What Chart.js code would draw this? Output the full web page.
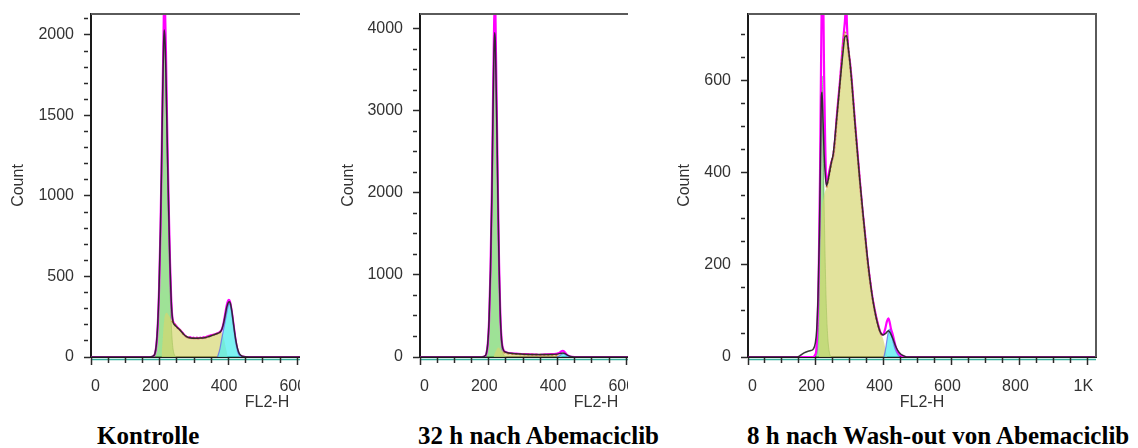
<!DOCTYPE html>
<html lang="de">
<head>
<meta charset="utf-8">
<title>Zellzyklus FL2-H</title>
<script src="https://cdn.jsdelivr.net/npm/chart.js"></script>
<style>
  body { margin: 0; background: #fff; }
  #bild { position: relative; width: 1138px; height: 448px; overflow: hidden; }
  .feld { position: absolute; top: 0; height: 420px; overflow: hidden; }
  .unter { position: absolute; top: 423px; font: bold 25px "Liberation Serif", "Times New Roman", serif; line-height: 25px; white-space: nowrap; color: #000; }
</style>
</head>
<body>
<div id="bild">
  <div class="feld" style="left:0; width:300px;"><canvas id="kontrolleChart" width="463" height="420"></canvas></div>
  <div class="feld" style="left:330px; width:298px;"><canvas id="abemaChart" width="462" height="420"></canvas></div>
  <div class="feld" style="left:660px; width:478px;"><canvas id="washChart" width="456" height="420"></canvas></div>
  <div class="unter" style="left:97px;">Kontrolle</div>
  <div class="unter" style="left:418px;">32 h nach Abemaciclib</div>
  <div class="unter" style="left:747px;">8 h nach Wash-out von Abemaciclib</div>
</div>
<script>
// ===== Zellzyklus-Histogramme (FL2-H gegen Count) =====

const xLabels = [0, 200, 400, 600, 800, 1000];

// --- Kontrolle ---
const kontrolleYLabels = [0, 500, 1000, 1500, 2000];
const kontrolleMessung = [[0,0],[170,0],[180,4],[186,20],[190,70],[194,190],[198,420],[202,780],[205,1150],[208,1600],[211,2000],[213,2250],[215,2200],[218,1900],[221,1500],[224,1150],[227,850],[230,580],[233,380],[236,260],[239,220],[243,205],[248,192],[253,180],[258,170],[263,158],[268,146],[273,134],[278,125],[283,118],[288,124],[293,117],[298,121],[303,115],[308,120],[313,114],[318,121],[323,117],[328,124],[333,119],[338,127],[343,131],[348,134],[353,137],[358,140],[363,143],[368,147],[373,152],[378,162],[382,180],[386,215],[390,262],[394,312],[398,345],[401,355],[404,345],[407,315],[411,260],[415,195],[419,130],[423,75],[427,38],[431,16],[436,6],[442,2],[450,0],[1024,0]];
const kontrolleFit = [[0,0],[170,0],[180,5],[186,22],[190,75],[194,200],[198,430],[202,790],[205,1150],[208,1580],[211,1930],[213,2030],[215,1980],[218,1760],[221,1420],[224,1100],[227,820],[230,560],[233,370],[236,260],[239,215],[243,200],[250,185],[260,165],[270,140],[280,124],[290,118],[300,117],[310,117],[320,118],[330,120],[340,125],[350,132],[360,140],[370,148],[378,160],[384,195],[390,255],[395,310],[400,340],[403,343],[406,330],[410,280],[414,215],[418,150],[422,95],[426,55],[430,28],[435,12],[440,5],[448,1],[460,0],[1024,0]];
const kontrolleG1 = [[180,0],[186,18],[190,70],[194,190],[198,420],[202,780],[205,1140],[208,1570],[211,1920],[213,2020],[215,1960],[218,1730],[221,1360],[224,1000],[227,680],[230,420],[233,230],[236,110],[239,45],[243,12],[248,0]];
const kontrolleS = [[205,0],[209,120],[213,230],[217,270],[221,275],[225,262],[230,245],[235,225],[240,212],[245,200],[250,185],[260,165],[270,140],[280,124],[290,118],[300,117],[310,117],[320,118],[330,120],[340,125],[350,132],[360,140],[370,148],[378,155],[383,140],[388,100],[393,50],[398,0]];
const kontrolleG2 = [[368,0],[375,50],[380,110],[385,165],[390,220],[395,275],[399,318],[402,330],[405,322],[409,285],[413,225],[417,160],[421,100],[425,55],[429,25],[434,8],[440,0]];

// --- 32 h nach Abemaciclib ---
const abemaYLabels = [0, 1000, 2000, 3000, 4000];
const abemaMessung = [[0,0],[180,0],[188,8],[193,40],[197,150],[201,450],[205,1050],[209,2000],[212,3000],[215,3900],[217,4300],[219,4250],[221,3700],[224,2800],[227,1900],[230,1150],[233,620],[236,300],[239,150],[243,85],[248,62],[255,52],[265,46],[280,40],[300,36],[320,33],[340,28],[348,22],[355,28],[365,32],[380,34],[395,38],[405,48],[411,68],[415,76],[419,70],[423,50],[428,25],[434,9],[442,2],[450,0],[1024,0]];
const abemaFit = [[0,0],[180,0],[188,10],[193,45],[197,160],[201,460],[205,1050],[209,1950],[212,2900],[215,3700],[217,3950],[219,3850],[221,3450],[224,2700],[227,1850],[230,1120],[233,600],[236,290],[239,145],[243,80],[250,58],[265,45],[300,35],[340,30],[380,30],[400,35],[410,45],[416,50],[422,42],[430,20],[438,7],[448,1],[460,0],[1024,0]];
const abemaG1 = [[185,0],[190,15],[195,80],[199,280],[203,700],[207,1500],[210,2400],[213,3400],[216,4000],[218,4100],[220,3750],[223,2950],[226,2000],[229,1200],[232,620],[235,280],[238,110],[242,35],[247,8],[252,0]];
const abemaS = [[214,0],[219,60],[224,100],[228,115],[232,105],[237,80],[243,60],[250,48],[265,40],[300,33],[340,28],[380,28],[400,25],[408,15],[414,0]];
const abemaG2 = [[398,0],[404,10],[409,25],[414,38],[418,40],[422,33],[427,18],[433,6],[440,0]];

// --- 8 h nach Wash-out von Abemaciclib ---
const washYLabels = [0, 200, 400, 600];
const washMessung = [[0,0],[190,0],[197,4],[201,15],[204,60],[208,180],[212,400],[215,640],[218,800],[221,790],[224,610],[227,470],[231,374],[236,392],[241,410],[246,425],[251,437],[256,470],[261,520],[266,562],[270,594],[275,640],[280,688],[283,712],[285,728],[287,752],[289,775],[291,725],[293,690],[296,660],[300,640],[305,602],[310,555],[315,508],[322,445],[329,384],[336,325],[344,269],[351,215],[359,167],[366,130],[373,102],[380,78],[388,57],[394,48],[399,50],[404,62],[409,78],[413,84],[417,75],[421,60],[425,51],[430,36],[435,21],[440,12],[447,5],[455,2],[465,0],[1024,0]];
const washFit = [[0,0],[145,0],[155,4],[165,9],[175,12],[185,14],[192,17],[198,30],[202,58],[206,130],[210,265],[213,420],[216,565],[218,575],[221,510],[224,440],[228,390],[231,372],[236,385],[241,405],[246,425],[251,442],[260,510],[270,590],[280,665],[285,695],[290,698],[295,672],[300,640],[305,600],[315,505],[329,384],[344,268],[359,167],[373,100],[388,56],[398,48],[406,52],[413,57],[419,52],[426,40],[433,26],[440,15],[450,6],[460,2],[472,0],[1024,0]];
const washG1 = [[200,0],[205,25],[209,120],[212,300],[214,470],[216,590],[218,610],[220,540],[222,420],[225,290],[228,180],[231,100],[235,40],[240,8],[245,0]];
const washS = [[209,0],[213,200],[217,310],[222,345],[227,360],[231,368],[236,385],[241,405],[246,425],[251,440],[256,470],[261,515],[266,558],[270,590],[275,636],[280,680],[285,705],[290,700],[295,672],[300,640],[305,600],[315,505],[322,442],[329,384],[336,325],[344,268],[351,214],[359,166],[366,130],[373,100],[380,77],[388,56],[395,45],[401,30],[406,12],[410,0]];
const washG2 = [[400,0],[405,18],[410,42],[414,58],[417,60],[421,52],[427,33],[433,17],[440,6],[447,0]];

const achsenFont = { family: '"Liberation Sans", Arial, sans-serif', size: 16 };
const achsenFarbe = '#333';

// Rahmen oben/rechts und die türkise Grundlinie unter der x-Achse
const rahmenPlugin = {
    id: 'rahmen',
    beforeDraw(chart) {
        const { ctx, chartArea: a } = chart;
        ctx.save();
        ctx.strokeStyle = '#35b09a';
        ctx.lineWidth = 1.5;
        ctx.beginPath();
        ctx.moveTo(a.left, a.bottom + 2.5);
        ctx.lineTo(a.right, a.bottom + 2.5);
        ctx.stroke();
        ctx.restore();
    },
    afterDraw(chart) {
        const { ctx, chartArea: a } = chart;
        ctx.save();
        ctx.strokeStyle = '#5a5a5a';
        ctx.lineWidth = 2;
        ctx.beginPath();
        ctx.moveTo(a.left, a.top);
        ctx.lineTo(a.right, a.top);
        ctx.lineTo(a.right, a.bottom);
        ctx.stroke();
        ctx.restore();
    }
};

function xLabel(value) {
    const v = Math.round(value);
    if (!xLabels.includes(v)) return '';
    if (v === 0) return '  0';
    return (v === 1000 ? '1K' : String(v)) + '  ';
}

function createHistogram(canvasId, d) {
    const ctx = document.getElementById(canvasId).getContext('2d');
    // S-Kontur nur dort, wo die S-Phase die Oberkante bildet
    const sKontur = d.s.filter(([x]) => x >= d.sRand[0] && x <= d.sRand[1]);
    return new Chart(ctx, {
        type: 'line',
        data: {
            datasets: [
                { label: 'Fit', data: d.fit, borderColor: 'rgba(35, 35, 35, 0.9)', borderWidth: 1.5, fill: false, order: 0 },
                { label: 'G2', data: d.g2, backgroundColor: 'rgba(80, 238, 238, 0.75)', borderColor: 'rgba(90, 90, 235, 0.7)', borderWidth: 1.2, fill: 'origin', order: 1 },
                { label: 'S-Kontur', data: sKontur, borderColor: 'rgba(205, 115, 60, 0.9)', borderWidth: 2, borderDash: [2, 2], fill: false, order: 2 },
                { label: 'S', data: d.s, backgroundColor: 'rgba(214, 214, 110, 0.68)', borderWidth: 0, fill: 'origin', order: 3 },
                { label: 'Messung', data: d.messung, borderColor: '#ff00ff', borderWidth: 2.2, fill: false, order: 4 },
                { label: 'G1', data: d.g1, backgroundColor: 'rgba(120, 215, 110, 0.72)', borderColor: 'rgba(60, 150, 60, 0.6)', borderWidth: 1, fill: 'origin', order: 5 }
            ]
        },
        options: {
            responsive: false,
            animation: false,
            events: [],
            layout: { padding: { left: d.padLeft, right: 20, top: 14, bottom: 4 } },
            elements: {
                point: { radius: 0 },
                line: { cubicInterpolationMode: 'monotone' }
            },
            plugins: {
                legend: { display: false },
                tooltip: { enabled: false }
            },
            scales: {
                x: {
                    type: 'linear',
                    min: 0,
                    max: 1024,
                    border: { display: true, color: '#1a1a1a', width: 2 },
                    grid: {
                        drawOnChartArea: false,
                        tickLength: 8,
                        tickColor: '#2a2a2a',
                        tickWidth: 1.5,
                        tickBorderDash: c => (c.tick && xLabels.includes(Math.round(c.tick.value))) ? [] : [5, 20]
                    },
                    ticks: {
                        stepSize: 50,
                        includeBounds: false,
                        autoSkip: false,
                        maxRotation: 0,
                        minRotation: 0,
                        padding: 12,
                        color: achsenFarbe,
                        font: achsenFont,
                        callback: xLabel
                    },
                    title: { display: true, text: 'FL2-H', color: achsenFarbe, font: achsenFont, padding: { top: 0, bottom: 4 } },
                    afterFit: s => { s.height = 59; s.paddingLeft = 0; s.paddingRight = 0; }
                },
                y: {
                    min: 0,
                    max: d.yMax,
                    border: { display: true, color: '#1a1a1a', width: 2 },
                    grid: {
                        drawOnChartArea: false,
                        tickLength: 7,
                        tickColor: '#2a2a2a',
                        tickWidth: 1.5,
                        tickBorderDash: c => (c.tick && d.yLabels.includes(Math.round(c.tick.value))) ? [] : [4, 20]
                    },
                    ticks: {
                        stepSize: d.yStep,
                        includeBounds: false,
                        autoSkip: false,
                        padding: 10,
                        color: achsenFarbe,
                        font: achsenFont,
                        callback: v => d.yLabels.includes(Math.round(v)) ? String(Math.round(v)) : ''
                    },
                    title: { display: true, text: 'Count', color: achsenFarbe, font: achsenFont, padding: { top: 4, bottom: 0 } },
                    afterFit: s => { s.width = d.yWidth; s.paddingTop = 0; s.paddingBottom = 0; }
                }
            }
        },
        plugins: [rahmenPlugin]
    });
}

createHistogram('kontrolleChart', {
    messung: kontrolleMessung, fit: kontrolleFit, g1: kontrolleG1, s: kontrolleS, g2: kontrolleG2,
    yMax: 2130, yStep: 100, yLabels: kontrolleYLabels, padLeft: 5, yWidth: 86, sRand: [233, 378]
});
createHistogram('abemaChart', {
    messung: abemaMessung, fit: abemaFit, g1: abemaG1, s: abemaS, g2: abemaG2,
    yMax: 4180, yStep: 250, yLabels: abemaYLabels, padLeft: 5, yWidth: 85, sRand: [240, 400]
});
createHistogram('washChart', {
    messung: washMessung, fit: washFit, g1: washG1, s: washS, g2: washG2,
    yMax: 745, yStep: 50, yLabels: washYLabels, padLeft: 11, yWidth: 77, sRand: [229, 395]
});
</script>
</body>
</html>
